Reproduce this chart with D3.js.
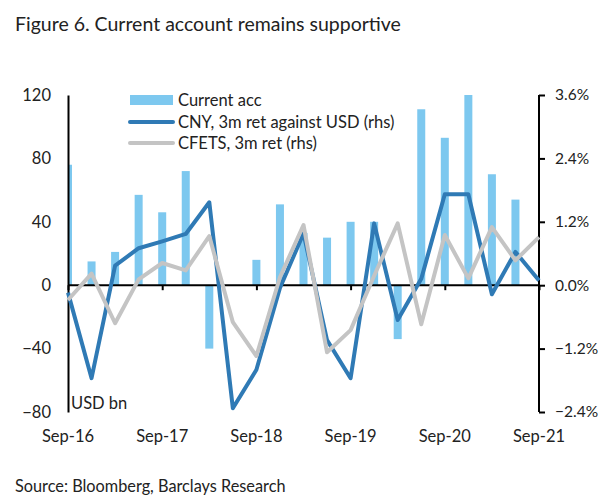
<!DOCTYPE html>
<html><head><meta charset="utf-8">
<script src="https://cdn.jsdelivr.net/npm/d3@7"></script>
<style>
body{margin:0;background:#fff;}
svg{display:block;font-family:Lato,"Noto Sans",sans-serif;}
</style></head>
<body><svg id="c" width="600" height="497"></svg>
<script>
const quarters = ["Sep-16","Dec-16","Mar-17","Jun-17","Sep-17","Dec-17","Mar-18","Jun-18","Sep-18","Dec-18","Mar-19","Jun-19","Sep-19","Dec-19","Mar-20","Jun-20","Sep-20","Dec-20","Mar-21","Jun-21","Sep-21"];
const currentAcc = [76,15,21,57,46,72,-40,null,16,51,33,30,40,40,-34,111,93,120,70,54,null];
const cny = [-0.14,-1.76,0.37,0.70,0.83,0.97,1.57,-2.33,-1.6,-0.05,0.98,-1.04,-1.76,1.17,-0.66,0.12,1.72,1.72,-0.17,0.63,0.09];
const cfets = [-0.28,0.22,-0.72,0.11,0.42,0.28,0.93,-0.70,-1.34,0.15,1.14,-1.27,-0.85,0.18,1.17,-0.74,0.95,0.13,1.10,0.47,0.91];
const xTicks = ["Sep-16","Sep-17","Sep-18","Sep-19","Sep-20","Sep-21"];
const leftTicks = [120,80,40,0,-40,-80];
const rightTicks = [3.6,2.4,1.2,0,-1.2,-2.4];
const seriesNames = ["Current acc","CNY, 3m ret against USD (rhs)","CFETS, 3m ret (rhs)"];
const colors = {bar:"#7dc8ef", cny:"#2f7ab5", cfets:"#c4c4c4", text:"#222"};

const svg = d3.select("#c");
const L = 68, R = 539, T = 95, B = 412;
const FS = 16.5;
const x = d3.scalePoint().domain(quarters).range([L, R]);
const yL = d3.scaleLinear().domain([-80,120]).range([B, T]);
const yR = d3.scaleLinear().domain([-2.4,3.6]).range([B, T]);

// title
svg.append("text").attr("x",15).attr("y",31).attr("font-size",19.5).attr("fill",colors.text).text("Figure 6. Current account remains supportive");
svg.append("text").attr("x",15).attr("y",492).attr("font-size",16.3).attr("fill",colors.text).text("Source: Bloomberg, Barclays Research");

svg.append("clipPath").attr("id","clip").append("rect").attr("x",L).attr("y",0).attr("width",R-L).attr("height",497);

// bars
const bw = 8;
svg.append("g").attr("clip-path","url(#clip)").selectAll("rect")
  .data(quarters.map((q,i)=>({q, v: currentAcc[i]})).filter(d=>d.v!==null))
  .join("rect")
  .attr("x", d=>x(d.q)-bw/2).attr("width", bw)
  .attr("y", d=>Math.min(yL(d.v), yL(0)))
  .attr("height", d=>Math.abs(yL(d.v)-yL(0)))
  .attr("fill", colors.bar);

// x axis (zero line)
const xAxis = d3.axisBottom(x).tickValues(xTicks).tickSize(5).tickFormat("");
const gx = svg.append("g").attr("transform",`translate(0,${yL(0)})`).call(xAxis);
gx.select(".domain").attr("stroke","#000").attr("stroke-width",2).attr("d",`M${L},0H${R}`);
gx.selectAll(".tick line").attr("stroke","#000").attr("stroke-width",2);

// x labels
svg.append("g").selectAll("text").data(xTicks).join("text")
  .attr("x", d=>x(d)).attr("y",442).attr("text-anchor","middle")
  .attr("font-size",FS).attr("fill",colors.text).text(d=>d);

// left axis
const gl = svg.append("g").attr("transform",`translate(${L},0)`)
  .call(d3.axisLeft(yL).tickValues(leftTicks).tickSize(0).tickPadding(17).tickFormat(d3.format("d")));
gl.select(".domain").attr("stroke","#000").attr("stroke-width",2);
gl.selectAll(".tick text").attr("font-size",FS).attr("fill",colors.text).attr("font-family","Lato");

// right axis
const gr = svg.append("g").attr("transform",`translate(${R},0)`)
  .call(d3.axisRight(yR).tickValues(rightTicks).tickSize(6).tickPadding(10).tickFormat(d=>d3.format(".1f")(d)+"%"));
gr.select(".domain").attr("stroke","#000").attr("stroke-width",2).attr("d",`M0,${T}V${B}`);
gr.selectAll(".tick line").attr("stroke","#000").attr("stroke-width",2);
gr.selectAll(".tick text").attr("font-size",15.5).attr("fill",colors.text).attr("font-family","Lato");

svg.append("text").attr("x",71).attr("y",409).attr("font-size",FS).attr("fill",colors.text).text("USD bn");

// lines
const line = d3.line().x((d,i)=>x(quarters[i])).y(d=>yR(d));
svg.append("path").datum(cny).attr("d",line).attr("fill","none").attr("stroke",colors.cny).attr("stroke-width",4).attr("stroke-linejoin","round");
svg.append("path").datum(cfets).attr("d",line).attr("fill","none").attr("stroke",colors.cfets).attr("stroke-width",4).attr("stroke-linejoin","round");

// legend
const lg = svg.append("g");
const ly = [100,122,143];
lg.append("rect").attr("x",130).attr("y",ly[0]-5).attr("width",43).attr("height",10).attr("fill",colors.bar);
lg.append("line").attr("x1",130).attr("x2",173).attr("y1",ly[1]).attr("y2",ly[1]).attr("stroke",colors.cny).attr("stroke-width",4).attr("stroke-linecap","round");
lg.append("line").attr("x1",130).attr("x2",173).attr("y1",ly[2]).attr("y2",ly[2]).attr("stroke",colors.cfets).attr("stroke-width",4).attr("stroke-linecap","round");
lg.selectAll("text").data(seriesNames).join("text")
  .attr("x",178).attr("y",(d,i)=>ly[i]+5.5).attr("font-size",FS).attr("fill",colors.text).text(d=>d);
</script></body></html>
